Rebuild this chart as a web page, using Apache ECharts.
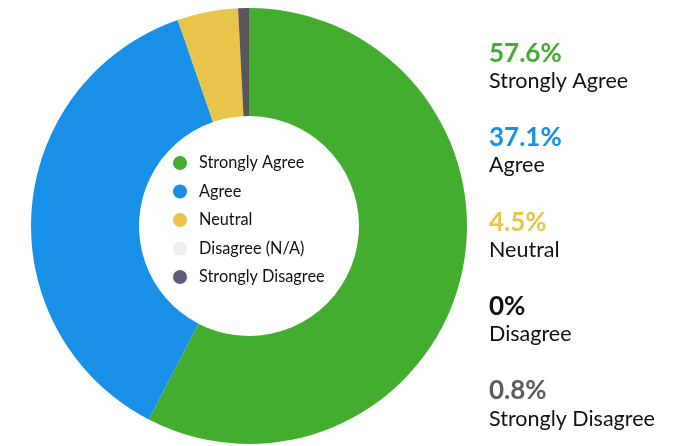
<!DOCTYPE html>
<html>
<head>
<meta charset="utf-8">
<script src="https://cdn.jsdelivr.net/npm/echarts@6/dist/echarts.min.js"></script>
<style>
  html, body { margin: 0; padding: 0; background: #fff; }
  #chart { width: 682px; height: 446px; }
</style>
</head>
<body>
<div id="chart"></div>
<script>
// answers, in the order they go round the ring (clockwise from the top)
var legendNames = ['Strongly Agree', 'Agree', 'Neutral', 'Disagree (N/A)', 'Strongly Disagree']
var sideNames = ['Strongly Agree', 'Agree', 'Neutral', 'Disagree', 'Strongly Disagree']
var shares = [57.6, 37.1, 4.5, 0, 0.8]
var sliceColors = ['#43ad2f', '#1890e8', '#e8c44b', '#eeeeee', '#58585b']
var dotColors = ['#43ad2f', '#1890e8', '#e8c44b', '#eeeeee', '#67597a']
var pctColors = ['#43ad2f', '#1890e8', '#e8c44b', '#111111', '#5c5c5c']

var chart = echarts.init(document.getElementById('chart'))

var font = 'Lato, "Open Sans", sans-serif'

// right-hand column: percentage over label
var side = []
shares.forEach(function (v, i) {
  var y = 53.5 + i * 84.4
  side.push({
    type: 'text',
    x: 489,
    y: y,
    style: {
      text: v + '%',
      fill: pctColors[i],
      fontSize: 26,
      fontWeight: 'bold',
      fontFamily: font,
      verticalAlign: 'middle'
    }
  })
  side.push({
    type: 'text',
    x: 489,
    y: y + 27.5,
    style: {
      text: sideNames[i],
      fill: '#111',
      fontSize: 21.5,
      fontFamily: font,
      verticalAlign: 'middle'
    }
  })
})

chart.setOption({
  animation: false,
  legend: {
    orient: 'vertical',
    left: 168,
    top: 150,
    icon: 'circle',
    itemWidth: 28,
    itemHeight: 14,
    itemGap: 12.5,
    textStyle: {
      fontSize: 16.3,
      fontFamily: font,
      color: '#111'
    },
    data: legendNames.map(function (n, i) {
      return { name: n, itemStyle: { color: dotColors[i] } }
    })
  },
  graphic: side,
  series: [{
    type: 'pie',
    center: [249, 226],
    radius: [110, 218],
    startAngle: 90,
    clockwise: true,
    label: { show: false },
    labelLine: { show: false },
    emphasis: { disabled: true },
    itemStyle: { borderWidth: 0 },
    data: legendNames.map(function (n, i) {
      return { name: n, value: shares[i], itemStyle: { color: sliceColors[i] } }
    })
  }]
})
</script>
</body>
</html>
